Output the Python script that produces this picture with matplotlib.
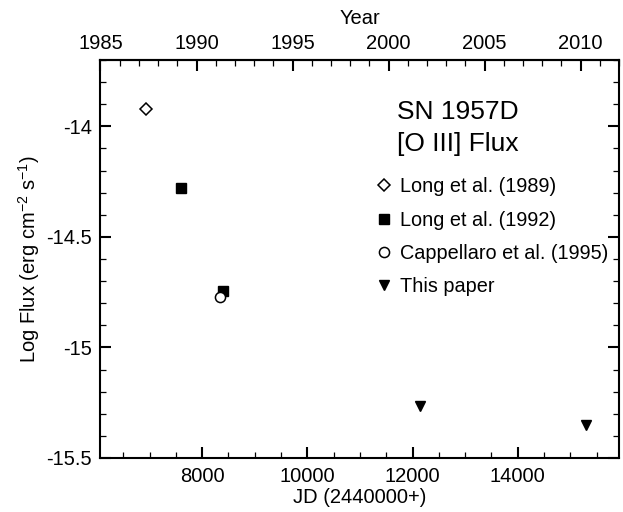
import matplotlib
matplotlib.use("Agg")
import matplotlib.pyplot as plt
from matplotlib.ticker import FixedLocator, MultipleLocator

plt.rcParams["font.family"] = ["Liberation Sans", "DejaVu Sans"]
plt.rcParams["mathtext.default"] = "regular"

# JD - 2440000 and log flux
long89_jd = [6935]
long89_flux = [-13.92]
long92_jd = [7600, 8405]
long92_flux = [-14.28, -14.745]
capp95_jd = [8345]
capp95_flux = [-14.77]
this_jd = [12150, 15300]
this_flux = [-15.263, -15.35]

jd_ticks = [8000, 10000, 12000, 14000]
flux_ticks = [-15.5, -15.0, -14.5, -14.0]
flux_tick_labels = ["-15.5", "-15", "-14.5", "-14"]
year_ticks = [1985, 1990, 1995, 2000, 2005, 2010]

jd_lim = (6065.75, 15927.5)   # 1985.0 .. 2012.0
flux_lim = (-15.5, -13.7)


def jd_to_year(jd):
    return 2000.0 + (jd - 11544.5) / 365.25


def year_to_jd(year):
    return 11544.5 + (year - 2000.0) * 365.25


fig = plt.figure(figsize=(6.23, 5.12), dpi=100)
ax = fig.add_axes([0.1613, 0.1055, 0.8323, 0.7773])

ax.plot(long89_jd, long89_flux, ls="none", marker="D", ms=6.0, mfc="white",
        mec="black", mew=1.1, label="Long et al. (1989)")
ax.plot(long92_jd, long92_flux, ls="none", marker="s", ms=6.8, mfc="black",
        mec="black", label="Long et al. (1992)")
ax.plot(capp95_jd, capp95_flux, ls="none", marker="o", ms=7.3, mfc="white",
        mec="black", mew=1.1, label="Cappellaro et al. (1995)")
ax.plot(this_jd, this_flux, ls="none", marker="v", ms=7.4, mfc="black",
        mec="black", label="This paper")

ax.set_xlim(*jd_lim)
ax.set_ylim(*flux_lim)

ax.xaxis.set_major_locator(FixedLocator(jd_ticks))
ax.xaxis.set_minor_locator(MultipleLocator(500))
ax.set_yticks(flux_ticks)
ax.set_yticklabels(flux_tick_labels)
ax.yaxis.set_minor_locator(MultipleLocator(0.1))

for side in ax.spines.values():
    side.set_linewidth(1.5)

ax.tick_params(which="both", direction="in", right=True, top=False,
               labelsize=14.5)
ax.tick_params(which="major", length=8, width=1.5)
ax.tick_params(which="minor", length=4, width=0.9)
ax.tick_params(axis="x", pad=6.5)
ax.tick_params(axis="y", pad=6)

ax.set_xlabel("JD (2440000+)", fontsize=14.5, labelpad=1.5)
ax.set_ylabel("Log Flux (erg cm$^{-2}$ s$^{-1}$)", fontsize=14.5, labelpad=3)

top = ax.secondary_xaxis("top", functions=(jd_to_year, year_to_jd))
top.xaxis.set_major_locator(FixedLocator(year_ticks))
top.xaxis.set_minor_locator(MultipleLocator(1))
top.spines["top"].set_linewidth(1.5)
top.tick_params(which="both", direction="in", labelsize=14.5, pad=5)
top.tick_params(which="major", length=8, width=1.5)
top.tick_params(which="minor", length=4, width=0.9)
top.set_xlabel("Year", fontsize=14.5, labelpad=7)

ax.text(0.572, 0.90, "SN 1957D\n[O III] Flux", transform=ax.transAxes,
        fontsize=19, ha="left", va="top", linespacing=1.45)

ax.legend(loc="upper left", bbox_to_anchor=(0.515, 0.725), frameon=False,
          fontsize=14.3, handlelength=0.9, handletextpad=0.35,
          labelspacing=0.72, borderaxespad=0)

fig.savefig("out.png", dpi=100)
